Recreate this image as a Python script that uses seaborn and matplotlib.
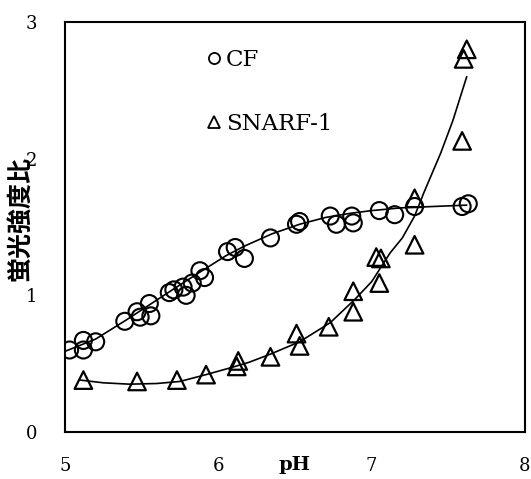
import matplotlib
matplotlib.use("Agg")
import matplotlib.pyplot as plt
from matplotlib.lines import Line2D
import seaborn as sns
import pandas as pd

# measured points, CF
cf_ph = [5.03, 5.12, 5.12, 5.20, 5.39, 5.47, 5.49, 5.55, 5.56, 5.68, 5.71, 5.77, 5.79,
         5.83, 5.88, 5.91, 6.06, 6.11, 6.17, 6.34, 6.51, 6.53, 6.73, 6.77, 6.87, 6.88,
         7.05, 7.15, 7.28, 7.59, 7.63]
cf_ratio = [0.60, 0.67, 0.60, 0.66, 0.81, 0.88, 0.84, 0.94, 0.85, 1.02, 1.04, 1.06, 1.00,
            1.09, 1.18, 1.13, 1.32, 1.35, 1.27, 1.42, 1.52, 1.54, 1.58, 1.52, 1.58, 1.53,
            1.62, 1.59, 1.65, 1.65, 1.67]

# measured points, SNARF-1
sn_ph = [5.12, 5.47, 5.73, 5.92, 6.12, 6.13, 6.34, 6.51, 6.53, 6.72, 6.88, 6.88,
         7.03, 7.06, 7.05, 7.28, 7.28, 7.59, 7.60, 7.62]
sn_ratio = [0.38, 0.37, 0.38, 0.42, 0.48, 0.52, 0.55, 0.72, 0.63, 0.77, 1.03, 0.88,
            1.28, 1.27, 1.09, 1.37, 1.71, 2.13, 2.73, 2.80]

# fitted curves
cf_fit_ph = [5.00, 5.20, 5.40, 5.55, 5.70, 5.88, 6.05, 6.17, 6.35, 6.53, 6.70, 6.86, 7.00,
             7.19, 7.40, 7.62]
cf_fit_ratio = [0.59, 0.68, 0.82, 0.93, 1.04, 1.17, 1.29, 1.36, 1.45, 1.52, 1.57, 1.60, 1.62,
                1.64, 1.65, 1.66]
sn_fit_ph = [5.10, 5.25, 5.42, 5.60, 5.75, 5.92, 6.08, 6.20, 6.34, 6.53, 6.73, 6.89,
             7.00, 7.12, 7.20, 7.28, 7.34, 7.45, 7.53, 7.62]
sn_fit_ratio = [0.38, 0.36, 0.35, 0.355, 0.37, 0.42, 0.47, 0.51, 0.57, 0.66, 0.80, 0.97,
                1.10, 1.31, 1.42, 1.58, 1.75, 2.04, 2.28, 2.60]

sns.set_style("white")
plt.rcParams["font.family"] = ["DejaVu Serif"]
plt.rcParams.update({"text.color": "black", "axes.labelcolor": "black",
                     "xtick.color": "black", "ytick.color": "black"})

fig = plt.figure(figsize=(5.31, 4.79), dpi=100)
ax = fig.add_axes([0.1224, 0.0981, 0.8663, 0.8560])

sns.lineplot(x=cf_fit_ph, y=cf_fit_ratio, sort=False, color="black", linewidth=1.2, ax=ax)
sns.lineplot(x=sn_fit_ph, y=sn_fit_ratio, sort=False, color="black", linewidth=1.2, ax=ax)

cf = pd.DataFrame({"pH": cf_ph, "ratio": cf_ratio})
sn = pd.DataFrame({"pH": sn_ph, "ratio": sn_ratio})
sns.scatterplot(data=cf, x="pH", y="ratio", marker="o", s=150, facecolors="none",
                edgecolors="black", linewidth=1.5, ax=ax, zorder=3)
sns.scatterplot(data=sn, x="pH", y="ratio", marker="^", s=160, facecolors="none",
                edgecolors="black", linewidth=1.6, ax=ax, zorder=3)

ax.set_xlim(5, 8)
ax.set_ylim(0, 3)
ax.set_xticks([5, 5.5, 6, 6.5, 7, 7.5, 8])
ax.set_xticklabels(["5", "", "6", "", "7", "", "8"])
ax.set_yticks([0, 0.5, 1, 1.5, 2, 2.5, 3])
ax.set_yticklabels(["0", "", "1", "", "2", "", "3"])
ax.tick_params(direction="in", length=7, width=1.5, labelsize=13, color="black",
               labelcolor="black")
ax.tick_params(axis="x", pad=18)
ax.tick_params(axis="y", pad=20)
for sp in ax.spines.values():
    sp.set_linewidth(1.5)
    sp.set_color("black")

ax.set_xlabel("pH", fontsize=14, fontweight="bold", family=["DejaVu Serif"], color="black")
ax.xaxis.set_label_coords(0.5, -0.058)
ax.set_ylabel("蛍光強度比", fontsize=18, fontweight="bold", color="black",
              family=["Noto Sans CJK JP", "DejaVu Sans"])
ax.yaxis.set_label_coords(-0.072, 0.52)

handles = [
    Line2D([], [], marker="o", linestyle="none", markersize=8, markerfacecolor="none",
           markeredgecolor="black", markeredgewidth=1.3),
    Line2D([], [], marker="^", linestyle="none", markersize=9, markerfacecolor="none",
           markeredgecolor="black", markeredgewidth=1.3),
]
ax.legend(handles, ["CF", "SNARF-1"], loc="upper left", bbox_to_anchor=(0.265, 0.985),
          frameon=False, handlelength=0.6, handletextpad=0.2, labelspacing=1.85,
          fontsize=16.5, labelcolor="black")

fig.savefig("out.png", dpi=100)
